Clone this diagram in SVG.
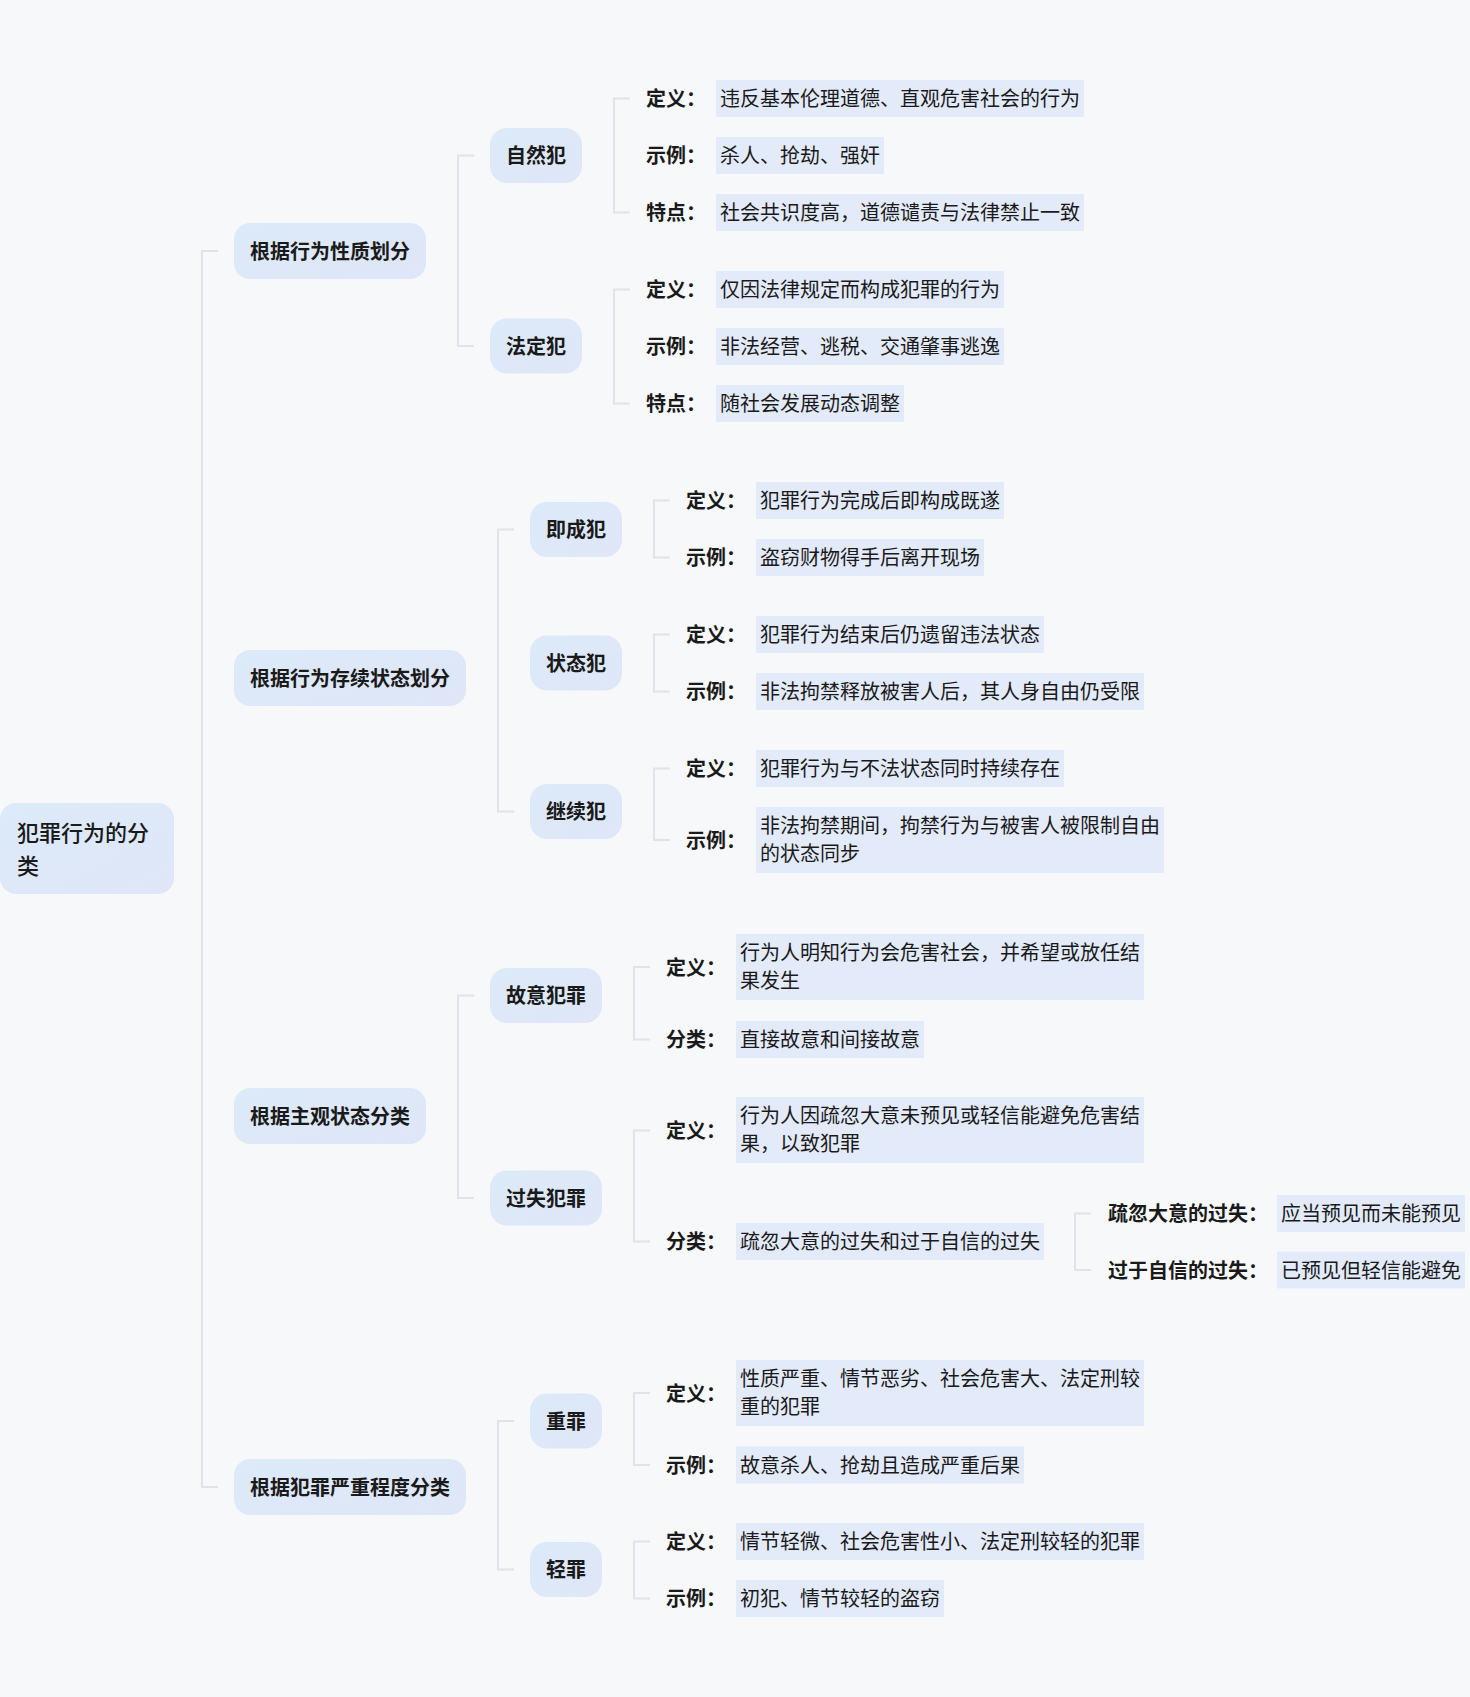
<svg xmlns="http://www.w3.org/2000/svg" width="1470" height="1697" viewBox="0 0 1470 1697">
<defs>
<linearGradient id="ng" x1="0" y1="0" x2="1" y2="1">
<stop offset="0" stop-color="#dceaf9"/>
<stop offset="1" stop-color="#dfe6f8"/>
</linearGradient>
<style>
text{font-family:"Noto Sans CJK SC","Noto Sans",sans-serif;font-size:20px;fill:#1a1a1a;dominant-baseline:central;transform:translateY(-1px)}
.n{fill:url(#ng)}
.b{font-weight:700}
.v{fill:#e3eafa}
.c{fill:none;stroke:#e0e3e7;stroke-width:2}
.r{font-size:22px;font-weight:500}
</style>
</defs>
<rect width="1470" height="1697" fill="#f7f8fa"/>
<g id="connectors">
<path class="c" d="M218 251H202V1487H218"/>
<path class="c" d="M474 155.5H458V346H474"/>
<path class="c" d="M514 529.5H498V811.5H514"/>
<path class="c" d="M474 995.5H458V1198H474"/>
<path class="c" d="M514 1421H498V1569.5H514"/>
<path class="c" d="M630 98.5H614V212.5H630"/>
<path class="c" d="M630 289.5H614V403.5H630"/>
<path class="c" d="M670 500.5H654V557.5H670"/>
<path class="c" d="M670 634.5H654V691.5H670"/>
<path class="c" d="M670 768.5H654V840H670"/>
<path class="c" d="M650 967H634V1039.5H650"/>
<path class="c" d="M650 1130.5H634V1241.5H650"/>
<path class="c" d="M1091 1213.5H1075V1270H1091"/>
<path class="c" d="M650 1393H634V1465H650"/>
<path class="c" d="M650 1541.5H634V1598.5H650"/>
</g>
<g id="root">
<rect class="n" x="0" y="803" width="174" height="91" rx="16"/>
<text class="r" x="17" y="832">犯罪行为的分</text>
<text class="r" x="17" y="865">类</text>
</g>
<g id="l1-xingzhi">
<rect class="n" x="234" y="223" width="192" height="56" rx="16"/>
<text class="b" x="250" y="251">根据行为性质划分</text>
</g>
<g id="l1-cunxu">
<rect class="n" x="234" y="650" width="232" height="56" rx="16"/>
<text class="b" x="250" y="678">根据行为存续状态划分</text>
</g>
<g id="l1-zhuguan">
<rect class="n" x="234" y="1088" width="192" height="56" rx="16"/>
<text class="b" x="250" y="1116">根据主观状态分类</text>
</g>
<g id="l1-yanzhong">
<rect class="n" x="234" y="1459" width="232" height="56" rx="16"/>
<text class="b" x="250" y="1487">根据犯罪严重程度分类</text>
</g>
<g id="ziranfan">
<rect class="n" x="490" y="128" width="92" height="55" rx="17"/>
<text class="b" x="506" y="155.5">自然犯</text>
<text class="b" x="646" y="98.5">定义：</text>
<rect class="v" x="716" y="80" width="368" height="37"/>
<text x="720" y="98.5">违反基本伦理道德、直观危害社会的行为</text>
<text class="b" x="646" y="155.5">示例：</text>
<rect class="v" x="716" y="137" width="168" height="37"/>
<text x="720" y="155.5">杀人、抢劫、强奸</text>
<text class="b" x="646" y="212.5">特点：</text>
<rect class="v" x="716" y="194" width="368" height="37"/>
<text x="720" y="212.5">社会共识度高，道德谴责与法律禁止一致</text>
</g>
<g id="fadingfan">
<rect class="n" x="490" y="318.5" width="92" height="55" rx="17"/>
<text class="b" x="506" y="346">法定犯</text>
<text class="b" x="646" y="289.5">定义：</text>
<rect class="v" x="716" y="271" width="288" height="37"/>
<text x="720" y="289.5">仅因法律规定而构成犯罪的行为</text>
<text class="b" x="646" y="346.5">示例：</text>
<rect class="v" x="716" y="328" width="288" height="37"/>
<text x="720" y="346.5">非法经营、逃税、交通肇事逃逸</text>
<text class="b" x="646" y="403.5">特点：</text>
<rect class="v" x="716" y="385" width="188" height="37"/>
<text x="720" y="403.5">随社会发展动态调整</text>
</g>
<g id="jichengfan">
<rect class="n" x="530" y="502" width="92" height="55" rx="17"/>
<text class="b" x="546" y="529.5">即成犯</text>
<text class="b" x="686" y="500.5">定义：</text>
<rect class="v" x="756" y="482" width="248" height="37"/>
<text x="760" y="500.5">犯罪行为完成后即构成既遂</text>
<text class="b" x="686" y="557.5">示例：</text>
<rect class="v" x="756" y="539" width="228" height="37"/>
<text x="760" y="557.5">盗窃财物得手后离开现场</text>
</g>
<g id="zhuangtaifan">
<rect class="n" x="530" y="635.5" width="92" height="55" rx="17"/>
<text class="b" x="546" y="663">状态犯</text>
<text class="b" x="686" y="634.5">定义：</text>
<rect class="v" x="756" y="616" width="288" height="37"/>
<text x="760" y="634.5">犯罪行为结束后仍遗留违法状态</text>
<text class="b" x="686" y="691.5">示例：</text>
<rect class="v" x="756" y="673" width="388" height="37"/>
<text x="760" y="691.5">非法拘禁释放被害人后，其人身自由仍受限</text>
</g>
<g id="jixufan">
<rect class="n" x="530" y="784" width="92" height="55" rx="17"/>
<text class="b" x="546" y="811.5">继续犯</text>
<text class="b" x="686" y="768.5">定义：</text>
<rect class="v" x="756" y="750" width="308" height="37"/>
<text x="760" y="768.5">犯罪行为与不法状态同时持续存在</text>
<text class="b" x="686" y="840">示例：</text>
<rect class="v" x="756" y="807" width="408" height="66"/>
<text x="760" y="825.5">非法拘禁期间，拘禁行为与被害人被限制自由</text>
<text x="760" y="853.5">的状态同步</text>
</g>
<g id="guyifanzui">
<rect class="n" x="490" y="968" width="112" height="55" rx="17"/>
<text class="b" x="506" y="995.5">故意犯罪</text>
<text class="b" x="666" y="967">定义：</text>
<rect class="v" x="736" y="934" width="408" height="66"/>
<text x="740" y="952.5">行为人明知行为会危害社会，并希望或放任结</text>
<text x="740" y="980.5">果发生</text>
<text class="b" x="666" y="1039.5">分类：</text>
<rect class="v" x="736" y="1021" width="188" height="37"/>
<text x="740" y="1039.5">直接故意和间接故意</text>
</g>
<g id="guoshifanzui">
<rect class="n" x="490" y="1170.5" width="112" height="55" rx="17"/>
<text class="b" x="506" y="1198">过失犯罪</text>
<text class="b" x="666" y="1130.5">定义：</text>
<rect class="v" x="736" y="1097" width="408" height="66"/>
<text x="740" y="1115.5">行为人因疏忽大意未预见或轻信能避免危害结</text>
<text x="740" y="1143.5">果，以致犯罪</text>
<text class="b" x="666" y="1241.5">分类：</text>
<rect class="v" x="736" y="1223" width="308" height="37"/>
<text x="740" y="1241.5">疏忽大意的过失和过于自信的过失</text>
</g>
<g id="shuhu">
<text class="b" x="1108" y="1213.5">疏忽大意的过失：</text>
<rect class="v" x="1277" y="1195" width="188" height="37"/>
<text x="1281" y="1213.5">应当预见而未能预见</text>
</g>
<g id="guoyu">
<text class="b" x="1108" y="1270">过于自信的过失：</text>
<rect class="v" x="1277" y="1251.5" width="188" height="37"/>
<text x="1281" y="1270">已预见但轻信能避免</text>
</g>
<g id="zhongzui">
<rect class="n" x="530" y="1393.5" width="72" height="55" rx="17"/>
<text class="b" x="546" y="1421">重罪</text>
<text class="b" x="666" y="1393">定义：</text>
<rect class="v" x="736" y="1360" width="408" height="66"/>
<text x="740" y="1378.5">性质严重、情节恶劣、社会危害大、法定刑较</text>
<text x="740" y="1406.5">重的犯罪</text>
<text class="b" x="666" y="1465">示例：</text>
<rect class="v" x="736" y="1446.5" width="288" height="37"/>
<text x="740" y="1465">故意杀人、抢劫且造成严重后果</text>
</g>
<g id="qingzui">
<rect class="n" x="530" y="1542" width="72" height="55" rx="17"/>
<text class="b" x="546" y="1569.5">轻罪</text>
<text class="b" x="666" y="1541.5">定义：</text>
<rect class="v" x="736" y="1523" width="408" height="37"/>
<text x="740" y="1541.5">情节轻微、社会危害性小、法定刑较轻的犯罪</text>
<text class="b" x="666" y="1598.5">示例：</text>
<rect class="v" x="736" y="1580" width="208" height="37"/>
<text x="740" y="1598.5">初犯、情节较轻的盗窃</text>
</g>
</svg>
